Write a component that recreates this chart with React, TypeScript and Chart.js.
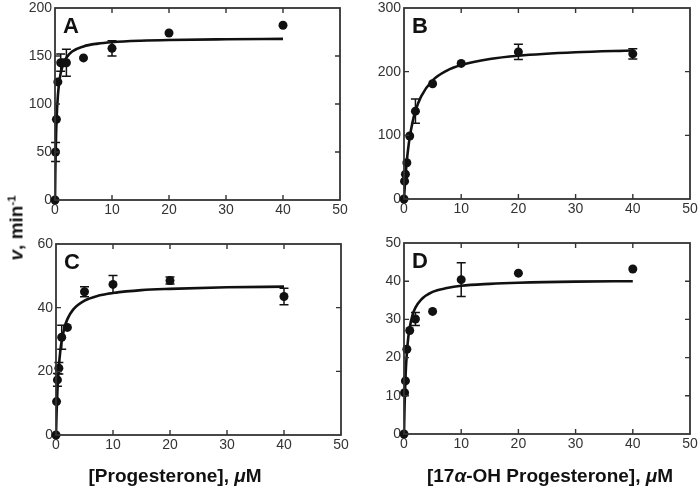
import React, { useEffect, useRef } from "react";
import { Chart, registerables } from "chart.js";

Chart.register(...registerables);

// ---------- data ----------
const xTickValues = [0, 10, 20, 30, 40, 50];
const panelLetters = ["A", "B", "C", "D"];

// Panel A: progesterone (top left)
const aX = [0, 0.1, 0.25, 0.5, 1, 1.5, 2, 5, 10, 20, 40];
const aY = [0, 50, 84, 123, 143, 143, 143, 148, 158, 174, 182];
const aErr = [0, 10, 0, 0, 9, 0, 14, 0, 8, 0, 0];
const aFitX = [0, 0.05, 0.1, 0.2, 0.3, 0.5, 0.75, 1, 1.5, 2, 3, 5, 7.5, 10, 15, 20, 30, 40];
const aFitY = [0, 25.6, 44.5, 70.4, 87.4, 108.3, 123.1, 132, 142.4, 148.2, 154.6, 160, 162.9, 164.4, 165.9, 166.7, 167.4, 167.8];

// Panel B: 17a-OH progesterone (top right)
const bX = [0, 0.1, 0.25, 0.5, 1, 2, 5, 10, 20, 40];
const bY = [0, 28, 39, 57, 99, 138, 181, 213, 231, 228];
const bErr = [0, 0, 0, 0, 0, 19, 0, 0, 12, 8];
const bFitX = [0, 0.1, 0.25, 0.5, 0.75, 1, 1.5, 2, 3, 5, 7.5, 10, 15, 20, 30, 40];
const bFitY = [0, 15.1, 34.6, 60.5, 80.7, 96.8, 121, 138.3, 161.3, 186.2, 201.7, 210.4, 220, 225.1, 230.5, 233.3];

// Panel C: progesterone (bottom left)
const cX = [0, 0.1, 0.25, 0.5, 1, 2, 5, 10, 20, 40];
const cY = [0, 10.5, 17.3, 21, 30.7, 33.8, 45, 47.3, 48.5, 43.5];
const cErr = [0, 0, 2, 1.8, 3.8, 0, 1.6, 2.8, 1.1, 2.6];
const cFitX = [0, 0.1, 0.25, 0.5, 0.75, 1, 1.5, 2, 3, 5, 7.5, 10, 15, 20, 30, 40];
const cFitY = [0, 6.8, 13.9, 21.5, 26.3, 29.6, 33.8, 36.4, 39.4, 42.2, 43.8, 44.6, 45.5, 45.9, 46.4, 46.6];

// Panel D: 17a-OH progesterone (bottom right)
const dX = [0, 0.1, 0.25, 0.5, 1, 2, 5, 10, 20, 40];
const dY = [0, 10.8, 13.9, 22.2, 27.1, 30.1, 32.1, 40.4, 42.1, 43.2];
const dErr = [0, 0, 0, 0, 0, 1.7, 0, 4.4, 0, 0];
const dFitX = [0, 0.1, 0.25, 0.5, 0.75, 1, 1.5, 2, 3, 5, 7.5, 10, 15, 20, 30, 40];
const dFitY = [0, 7.4, 14.5, 21.3, 25.3, 27.9, 31.2, 33.1, 35.2, 37.2, 38.2, 38.8, 39.3, 39.6, 39.9, 40.0];

const yMaxes = [200, 300, 60, 50];
const ySteps = [50, 100, 20, 10];

const xTitleLeft = "[Progesterone], ";
const xTitleRightPre = "[17";
const xTitleRightAlpha = "\u03B1";
const xTitleRightPost = "-OH Progesterone], ";
const unitMu = "\u03BC";
const unitM = "M";
const yTitleV = "v";
const yTitleRest = ", min";
const yTitleSup = "-1";

// ---------- layout (chart areas: left, top, right, bottom) ----------
const AREAS = [
  [55, 8, 340, 200],
  [404, 8, 690, 199],
  [56, 244, 341, 435],
  [404, 243, 690, 434],
];
const Y_AXIS_W = 55;
const X_AXIS_H = 40;
const PAD = 16;

const PANELS = [
  { x: aX, y: aY, err: aErr, fx: aFitX, fy: aFitY },
  { x: bX, y: bY, err: bErr, fx: bFitX, fy: bFitY },
  { x: cX, y: cY, err: cErr, fx: cFitX, fy: cFitY },
  { x: dX, y: dY, err: dErr, fx: dFitX, fy: dFitY },
];

const TICK_FONT = { family: "'Liberation Sans', Arial, sans-serif", size: 14 };
const INK = "#111";
const FRAME = "#333";

function makeDecorPlugin(letter: string, xs: number[], ys: number[], errs: number[], yTicks: number[]) {
  return {
    id: "decor" + letter,
    afterDatasetsDraw(chart: any) {
      const ctx = chart.ctx;
      const xs_ = chart.scales.x;
      const ys_ = chart.scales.y;
      ctx.save();
      ctx.strokeStyle = INK;
      ctx.lineWidth = 1.5;
      for (let i = 0; i < xs.length; i++) {
        const e = errs[i];
        if (!e) continue;
        const px = xs_.getPixelForValue(xs[i]);
        const top = ys_.getPixelForValue(ys[i] + e);
        const bot = ys_.getPixelForValue(ys[i] - e);
        ctx.beginPath();
        ctx.moveTo(px, top);
        ctx.lineTo(px, bot);
        ctx.moveTo(px - 4.5, top);
        ctx.lineTo(px + 4.5, top);
        ctx.moveTo(px - 4.5, bot);
        ctx.lineTo(px + 4.5, bot);
        ctx.stroke();
      }
      ctx.restore();
    },
    afterDraw(chart: any) {
      const ctx = chart.ctx;
      const a = chart.chartArea;
      const xs_ = chart.scales.x;
      const ys_ = chart.scales.y;
      ctx.save();
      ctx.strokeStyle = FRAME;
      ctx.lineWidth = 1.8;
      ctx.strokeRect(a.left, a.top, a.right - a.left, a.bottom - a.top);
      ctx.lineWidth = 1.4;
      ctx.beginPath();
      const tl = 5;
      xTickValues.forEach((v) => {
        if (v === xs_.min || v === xs_.max) return;
        const px = xs_.getPixelForValue(v);
        ctx.moveTo(px, a.bottom);
        ctx.lineTo(px, a.bottom - tl);
        ctx.moveTo(px, a.top);
        ctx.lineTo(px, a.top + tl);
      });
      yTicks.forEach((v) => {
        if (v === ys_.min || v === ys_.max) return;
        const py = ys_.getPixelForValue(v);
        ctx.moveTo(a.left, py);
        ctx.lineTo(a.left + tl, py);
        ctx.moveTo(a.right, py);
        ctx.lineTo(a.right - tl, py);
      });
      ctx.stroke();
      ctx.fillStyle = INK;
      ctx.font = "bold 22px 'Liberation Sans', Arial, sans-serif";
      ctx.textBaseline = "alphabetic";
      ctx.textAlign = "left";
      ctx.fillText(letter, a.left + 8, a.top + 25);
      ctx.restore();
    },
  };
}

function Panel({ idx }: { idx: number }) {
  const ref = useRef<HTMLCanvasElement>(null);
  const [L, T, R, B] = AREAS[idx];
  const w = R - L + Y_AXIS_W + PAD;
  const h = B - T + PAD + X_AXIS_H;
  useEffect(() => {
    if (!ref.current) return;
    const p = PANELS[idx];
    const yMax = yMaxes[idx];
    const yStep = ySteps[idx];
    const yTicks: number[] = [];
    for (let v = 0; v <= yMax; v += yStep) yTicks.push(v);
    const chart = new Chart(ref.current, {
      type: "scatter",
      data: {
        datasets: [
          {
            type: "line",
            data: p.fx.map((x, i) => ({ x, y: p.fy[i] })),
            borderColor: INK,
            borderWidth: 2.6,
            pointRadius: 0,
            cubicInterpolationMode: "monotone",
            fill: false,
            order: 2,
          } as any,
          {
            type: "scatter",
            data: p.x.map((x, i) => ({ x, y: p.y[i] })),
            backgroundColor: INK,
            borderColor: INK,
            borderWidth: 0,
            pointRadius: 4.5,
            clip: false,
            order: 1,
          } as any,
        ],
      },
      options: {
        animation: false,
        responsive: false,
        maintainAspectRatio: false,
        events: [],
        layout: { padding: { top: PAD, right: PAD, left: 0, bottom: 0 } },
        plugins: { legend: { display: false }, tooltip: { enabled: false } },
        scales: {
          x: {
            type: "linear",
            min: 0,
            max: 50,
            ticks: {
              stepSize: 10,
              padding: 2,
              color: "#333",
              font: TICK_FONT,
              maxRotation: 0,
              autoSkip: false,
            },
            grid: { display: false, drawTicks: false },
            border: { display: false },
            afterFit: (s: any) => {
              s.height = X_AXIS_H;
            },
          },
          y: {
            type: "linear",
            min: 0,
            max: yMax,
            ticks: {
              stepSize: yStep,
              padding: 3,
              color: "#333",
              font: { ...TICK_FONT, lineHeight: 1 },
              autoSkip: false,
            },
            grid: { display: false, drawTicks: false },
            border: { display: false },
            afterFit: (s: any) => {
              s.width = Y_AXIS_W;
            },
          },
        },
      } as any,
      plugins: [makeDecorPlugin(panelLetters[idx], p.x, p.y, p.err, yTicks)],
    });
    return () => chart.destroy();
  }, [idx]);
  return (
    <canvas
      ref={ref}
      width={w}
      height={h}
      style={{ position: "absolute", left: L - Y_AXIS_W, top: T - PAD, width: w, height: h }}
    />
  );
}

const titleStyle: React.CSSProperties = {
  position: "absolute",
  transform: "translate(-50%, -50%)",
  whiteSpace: "nowrap",
  fontFamily: "'Liberation Sans', Arial, sans-serif",
  fontWeight: "bold",
  fontSize: 19,
  color: "#111",
  lineHeight: 1,
};

export default function App() {
  return (
    <div
      style={{
        position: "fixed",
        left: 0,
        top: 0,
        width: 700,
        height: 491,
        overflow: "hidden",
        background: "#fff",
      }}
    >
      {[0, 1, 2, 3].map((i) => (
        <Panel key={i} idx={i} />
      ))}
      <div style={{ ...titleStyle, left: 175, top: 475 }}>
        {xTitleLeft}
        <i>{unitMu}</i>
        {unitM}
      </div>
      <div style={{ ...titleStyle, left: 550, top: 475 }}>
        {xTitleRightPre}
        <i>{xTitleRightAlpha}</i>
        {xTitleRightPost}
        <i>{unitMu}</i>
        {unitM}
      </div>
      <div
        style={{
          ...titleStyle,
          left: 16,
          top: 228,
          transform: "translate(-50%, -50%) rotate(-90deg)",
        }}
      >
        <i>{yTitleV}</i>
        {yTitleRest}
        <sup style={{ fontSize: "0.6em", verticalAlign: "0.6em" }}>{yTitleSup}</sup>
      </div>
    </div>
  );
}
